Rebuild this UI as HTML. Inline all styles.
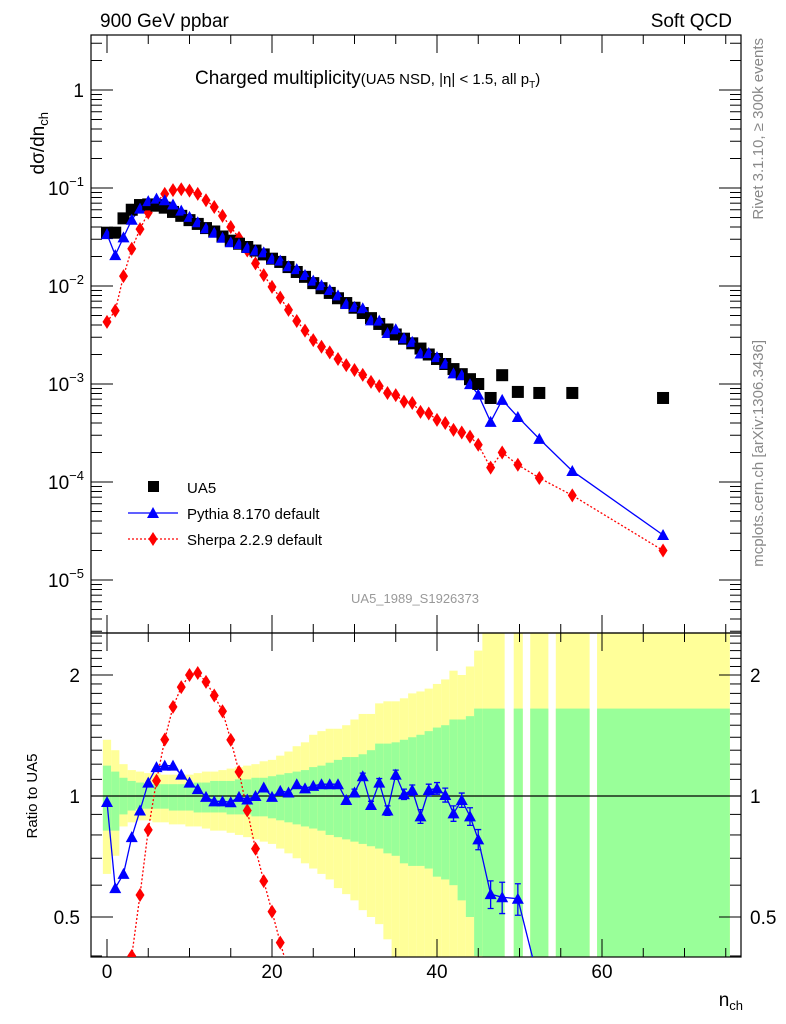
<!DOCTYPE html>
<html><head><meta charset="utf-8"><style>
html,body{margin:0;padding:0;background:#fff;width:786px;height:1024px;overflow:hidden}
svg{display:block;font-family:"Liberation Sans",sans-serif}
</style></head><body>
<svg id="chart" width="786" height="1024" viewBox="0 0 786 1024">
<g id="bands"></g>
<g id="axes"></g>
<g id="series"></g>
<text x="100" y="27" font-size="19">900 GeV ppbar</text>
<text x="732" y="27" font-size="19" text-anchor="end">Soft QCD</text>
<text x="195" y="84" font-size="19">Charged multiplicity<tspan font-size="15">(UA5 NSD, |η| &lt; 1.5, all p<tspan font-size="10" dy="4">T</tspan><tspan dy="-4">)</tspan></tspan></text>
<text transform="translate(44,112) rotate(-90)" font-size="19" text-anchor="end">dσ/dn<tspan font-size="13" dy="4">ch</tspan></text>
<text transform="translate(763,38) rotate(-90)" font-size="15" fill="#888" text-anchor="end">Rivet 3.1.10, ≥ 300k events</text>
<text transform="translate(763,340) rotate(-90)" font-size="15" fill="#888" text-anchor="end">mcplots.cern.ch [arXiv:1306.3436]</text>
<text x="415" y="603" font-size="13" fill="#999" text-anchor="middle">UA5_1989_S1926373</text>
<text transform="translate(37,796) rotate(-90)" font-size="15" text-anchor="middle">Ratio to UA5</text>
<text x="743" y="1006" font-size="19" text-anchor="end">n<tspan font-size="13" dy="4">ch</tspan></text>
<g>
<rect x="148" y="481" width="11" height="11" fill="#000"/>
<text x="187" y="493" font-size="15">UA5</text>
<line x1="128" y1="513" x2="178" y2="513" stroke="#00f" stroke-width="1.3"/>
<polygon points="153,507 159,518 147,518" fill="#00f"/>
<text x="187" y="519" font-size="15">Pythia 8.170 default</text>
<line x1="128" y1="539" x2="178" y2="539" stroke="#f00" stroke-width="1.3" stroke-dasharray="2,2"/>
<polygon points="153,532 157.5,539 153,546 148.5,539" fill="#f00"/>
<text x="187" y="545" font-size="15">Sherpa 2.2.9 default</text>
</g>
</svg>
<script>
const nVals=[0,1,2,3,4,5,6,7,8,9,10,11,12,13,14,15,16,17,18,19,20,21,22,23,24,25,26,27,28,29,30,31,32,33,34,35,36,37,38,39,40,41,42,43,44,45,46.5,47.9,49.8,52.4,56.4,67.4];
const ua5=[0.035,0.035,0.049,0.06,0.067,0.068,0.066,0.063,0.057,0.052,0.047,0.043,0.039,0.036,0.032,0.029,0.027,0.025,0.023,0.021,0.019,0.0176,0.0156,0.0139,0.0124,0.0107,0.0095,0.0085,0.0075,0.0067,0.006,0.0053,0.0047,0.0041,0.0036,0.0032,0.0029,0.0026,0.0023,0.002,0.0018,0.0016,0.00142,0.00126,0.00112,0.001,0.00072,0.00123,0.00083,0.00081,0.00081,0.00072];
const pythiaRatio=[0.966,0.59,0.64,0.79,0.92,1.08,1.18,1.19,1.19,1.13,1.08,1.04,0.995,0.97,0.97,0.965,0.995,0.98,1.0,1.05,0.995,1.03,1.02,1.07,1.045,1.06,1.07,1.07,1.07,0.977,1.02,1.12,0.95,1.08,0.92,1.13,1.01,1.035,0.89,1.035,1.045,1.006,0.905,0.977,0.89,0.78,0.57,0.56,0.555,0.34,0.16,0.04];
const pythiaErr=[0.005,0.005,0.005,0.005,0.005,0.005,0.005,0.005,0.005,0.005,0.005,0.005,0.005,0.005,0.005,0.005,0.005,0.005,0.005,0.005,0.01,0.01,0.01,0.01,0.01,0.01,0.01,0.01,0.015,0.015,0.02,0.02,0.02,0.025,0.025,0.03,0.03,0.03,0.035,0.035,0.035,0.04,0.04,0.04,0.045,0.045,0.045,0.05,0.05,0.04,0.04,0.01];
const sherpa=[0.0043,0.0056,0.0126,0.024,0.038,0.056,0.072,0.087,0.095,0.097,0.094,0.087,0.075,0.064,0.052,0.04,0.031,0.023,0.017,0.0129,0.0098,0.0076,0.0057,0.0044,0.0035,0.0028,0.0024,0.0021,0.0018,0.00156,0.00139,0.00124,0.00105,0.00095,0.00081,0.00077,0.00066,0.00064,0.00052,0.0005,0.00043,0.0004,0.00034,0.00032,0.00029,0.00024,0.00014,0.0002,0.00015,0.00011,0.000073,0.00002];
const binLo=[-0.5,0.5,1.5,2.5,3.5,4.5,5.5,6.5,7.5,8.5,9.5,10.5,11.5,12.5,13.5,14.5,15.5,16.5,17.5,18.5,19.5,20.5,21.5,22.5,23.5,24.5,25.5,26.5,27.5,28.5,29.5,30.5,31.5,32.5,33.5,34.5,35.5,36.5,37.5,38.5,39.5,40.5,41.5,42.5,43.5,44.5,45.5,49.3,51.3,54.4,59.4];
const binHi=[0.5,1.5,2.5,3.5,4.5,5.5,6.5,7.5,8.5,9.5,10.5,11.5,12.5,13.5,14.5,15.5,16.5,17.5,18.5,19.5,20.5,21.5,22.5,23.5,24.5,25.5,26.5,27.5,28.5,29.5,30.5,31.5,32.5,33.5,34.5,35.5,36.5,37.5,38.5,39.5,40.5,41.5,42.5,43.5,44.5,45.5,48.2,50.4,53.5,58.5,75.5];
const yelUp=[1.38,1.3,1.2,1.16,1.15,1.14,1.14,1.13,1.13,1.13,1.13,1.14,1.15,1.15,1.16,1.17,1.18,1.19,1.2,1.22,1.23,1.26,1.29,1.33,1.36,1.42,1.45,1.47,1.47,1.5,1.55,1.6,1.6,1.7,1.72,1.72,1.75,1.8,1.82,1.85,1.9,1.95,2.05,2.0,2.1,2.3,2.6,2.6,2.6,2.6,2.6];
const grnUp=[1.19,1.15,1.11,1.09,1.08,1.07,1.07,1.07,1.07,1.07,1.07,1.08,1.08,1.09,1.09,1.09,1.1,1.1,1.11,1.11,1.12,1.13,1.14,1.15,1.16,1.18,1.19,1.21,1.23,1.25,1.25,1.27,1.3,1.35,1.35,1.36,1.38,1.4,1.42,1.45,1.48,1.5,1.55,1.55,1.58,1.65,1.65,1.65,1.65,1.65,1.65];
const grnDn=[0.82,0.82,0.9,0.92,0.93,0.93,0.93,0.93,0.92,0.92,0.92,0.91,0.91,0.91,0.91,0.9,0.9,0.9,0.89,0.89,0.88,0.87,0.86,0.85,0.84,0.83,0.82,0.8,0.79,0.78,0.77,0.76,0.75,0.74,0.72,0.71,0.68,0.67,0.67,0.66,0.63,0.62,0.6,0.55,0.5,0.4,0.3,0.3,0.3,0.3,0.3];
const yelDn=[0.64,0.71,0.84,0.86,0.87,0.87,0.86,0.86,0.85,0.85,0.84,0.84,0.83,0.82,0.82,0.81,0.8,0.79,0.78,0.77,0.76,0.74,0.72,0.7,0.68,0.66,0.64,0.62,0.59,0.57,0.55,0.52,0.5,0.48,0.44,0.38,0.36,0.35,0.33,0.33,0.32,0.32,0.32,0.36,0.32,0.3,0.3,0.3,0.3,0.3,0.3];
const xTicks=[0,20,40,60];
const NS='http://www.w3.org/2000/svg';
const L=91,R=741,T=35,MB=633,RB=957;
const X=n=>107+8.25*n;
const Y=v=>90-98*Math.log10(v);
const RY=r=>796-121*Math.log2(r);
function mk(parent,tag,attrs){const e=document.createElementNS(NS,tag);for(const k in attrs)e.setAttribute(k,attrs[k]);document.getElementById(parent).appendChild(e);return e;}
for(let i=0;i<binLo.length;i++){
 const x1=X(binLo[i]),w=X(binHi[i])-x1;
 const clip=v=>Math.max(MB,Math.min(RB,v));
 let e=mk('bands','rect',{x:x1,y:clip(RY(yelUp[i])),width:w,height:clip(RY(yelDn[i]))-clip(RY(yelUp[i])),fill:'#ffff99'});
 
 
 e=mk('bands','rect',{x:x1,y:clip(RY(grnUp[i])),width:w,height:clip(RY(grnDn[i]))-clip(RY(grnUp[i])),fill:'#99ff99'});
 
 
}
let f=mk('axes','rect',{x:L,y:T,width:R-L,height:MB-T,fill:'none',stroke:'#000','stroke-width':1.2});


f=mk('axes','rect',{x:L,y:MB,width:R-L,height:RB-MB,fill:'none',stroke:'#000','stroke-width':1.2});


let rl=mk('axes','line',{x1:L,x2:R,y1:RY(1),y2:RY(1),stroke:'#000','stroke-width':1.2});


for(let d=-6;d<=0;d++){for(let m=1;m<10;m++){const y=Y(m*Math.pow(10,d));if(y<T||y>MB)continue;const len=m===1?22:11;
 let t=mk('axes','line',{x1:L,x2:L+len,y1:y,y2:y,stroke:'#000'});
 t=mk('axes','line',{x1:R-len,x2:R,y1:y,y2:y,stroke:'#000'});}}
for(let d=-5;d<=0;d++){const y=Y(Math.pow(10,d));
 const t=mk('axes','text',{x:84,y:y+7,'font-size':19,'text-anchor':'end'});
 
 
 if(d===0)t.textContent='1';else{t.innerHTML='10<tspan font-size="13" dy="-9">−'+(-d)+'</tspan>';}}
for(let r=0.4;r<2.6;r+=0.1){const rr=Math.round(r*10)/10;const y=RY(rr);if(y<MB||y>RB)continue;const maj=(rr===0.5||rr===1||rr===2);const len=maj?22:11;
 let t=mk('axes','line',{x1:L,x2:L+len,y1:y,y2:y,stroke:'#000'});
 t=mk('axes','line',{x1:R-len,x2:R,y1:y,y2:y,stroke:'#000'});
 if(maj){for(const [xx,an] of [[80,'end'],[750,'start']]){const tl=mk('axes','text',{x:xx,y:y+7,'font-size':19,'text-anchor':an});tl.textContent=String(rr);
 
 }}}
for(let n=0;n<=75;n+=5){const x=X(n);const maj=xTicks.includes(n);const len=maj?18:9;
 for(const [y0,dir] of [[T,1],[MB,-1],[MB,1],[RB,-1]]){const t=mk('axes','line',{x1:x,x2:x,y1:y0,y2:y0+dir*len,stroke:'#000'});}}
for(const n of xTicks){const t=mk('axes','text',{x:X(n),y:978,'font-size':19,'text-anchor':'middle'});t.textContent=String(n);
 
 }
const defs=mk('series','defs',{});
defs.innerHTML='<clipPath id="cm"><rect x="'+L+'" y="'+T+'" width="'+(R-L)+'" height="'+(MB-T)+'"/></clipPath><clipPath id="cr"><rect x="'+L+'" y="'+MB+'" width="'+(R-L)+'" height="'+(RB-MB)+'"/></clipPath>';
const gm=mk('series','g',{'clip-path':'url(#cm)',id:'gm'});


const gr=mk('series','g',{'clip-path':'url(#cr)',id:'gr'});


const pythia=ua5.map((v,i)=>v*pythiaRatio[i]);
const sherpaRatio=sherpa.map((v,i)=>v/ua5[i]);
function line(g,pts,color,dash,name){const e=mk(g,'polyline',{points:pts.map(p=>p.join(',')).join(' '),fill:'none',stroke:color,'stroke-width':1.3});if(dash)e.setAttribute('stroke-dasharray','2,2');
 
 }
line('gm',nVals.map((n,i)=>[X(n),Y(sherpa[i])]),'#f00',true,'sherpa-line');
line('gm',nVals.map((n,i)=>[X(n),Y(pythia[i])]),'#00f',false,'pythia-line');
line('gr',nVals.map((n,i)=>[X(n),RY(Math.max(sherpaRatio[i],0.01))]),'#f00',true,'sherpa-ratio-line');
line('gr',nVals.map((n,i)=>[X(n),RY(pythiaRatio[i])]),'#00f',false,'pythia-ratio-line');
function tri(g,x,y,name){const e=mk(g,'polygon',{points:`${x},${y-6} ${x+6},${y+5} ${x-6},${y+5}`,fill:'#00f'});}
function dia(g,x,y,name){const e=mk(g,'polygon',{points:`${x},${y-7} ${x+4.5},${y} ${x},${y+7} ${x-4.5},${y}`,fill:'#f00'});}
nVals.forEach((n,i)=>{
 const x=X(n);
 dia('gm',x,Y(sherpa[i]),'sherpa-point');
 const s=mk('gm','rect',{x:x-6,y:Y(ua5[i])-6,width:12,height:12,fill:'#000'});
 
 
 tri('gm',x,Y(pythia[i]),'pythia-point');
 if(sherpaRatio[i]>0.35)dia('gr',x,RY(sherpaRatio[i]),'sherpa-ratio-point');
 const e=pythiaErr[i];
 if(e>0.015){const eb=mk('gr','path',{d:`M${x},${RY(pythiaRatio[i]+e)}V${RY(pythiaRatio[i]-e)}M${x-3},${RY(pythiaRatio[i]+e)}h6M${x-3},${RY(pythiaRatio[i]-e)}h6`,stroke:'#00f','stroke-width':1.3,fill:'none'});
 
 }
 tri('gr',x,RY(pythiaRatio[i]),'pythia-ratio-point');
});
</script>
</body></html>
